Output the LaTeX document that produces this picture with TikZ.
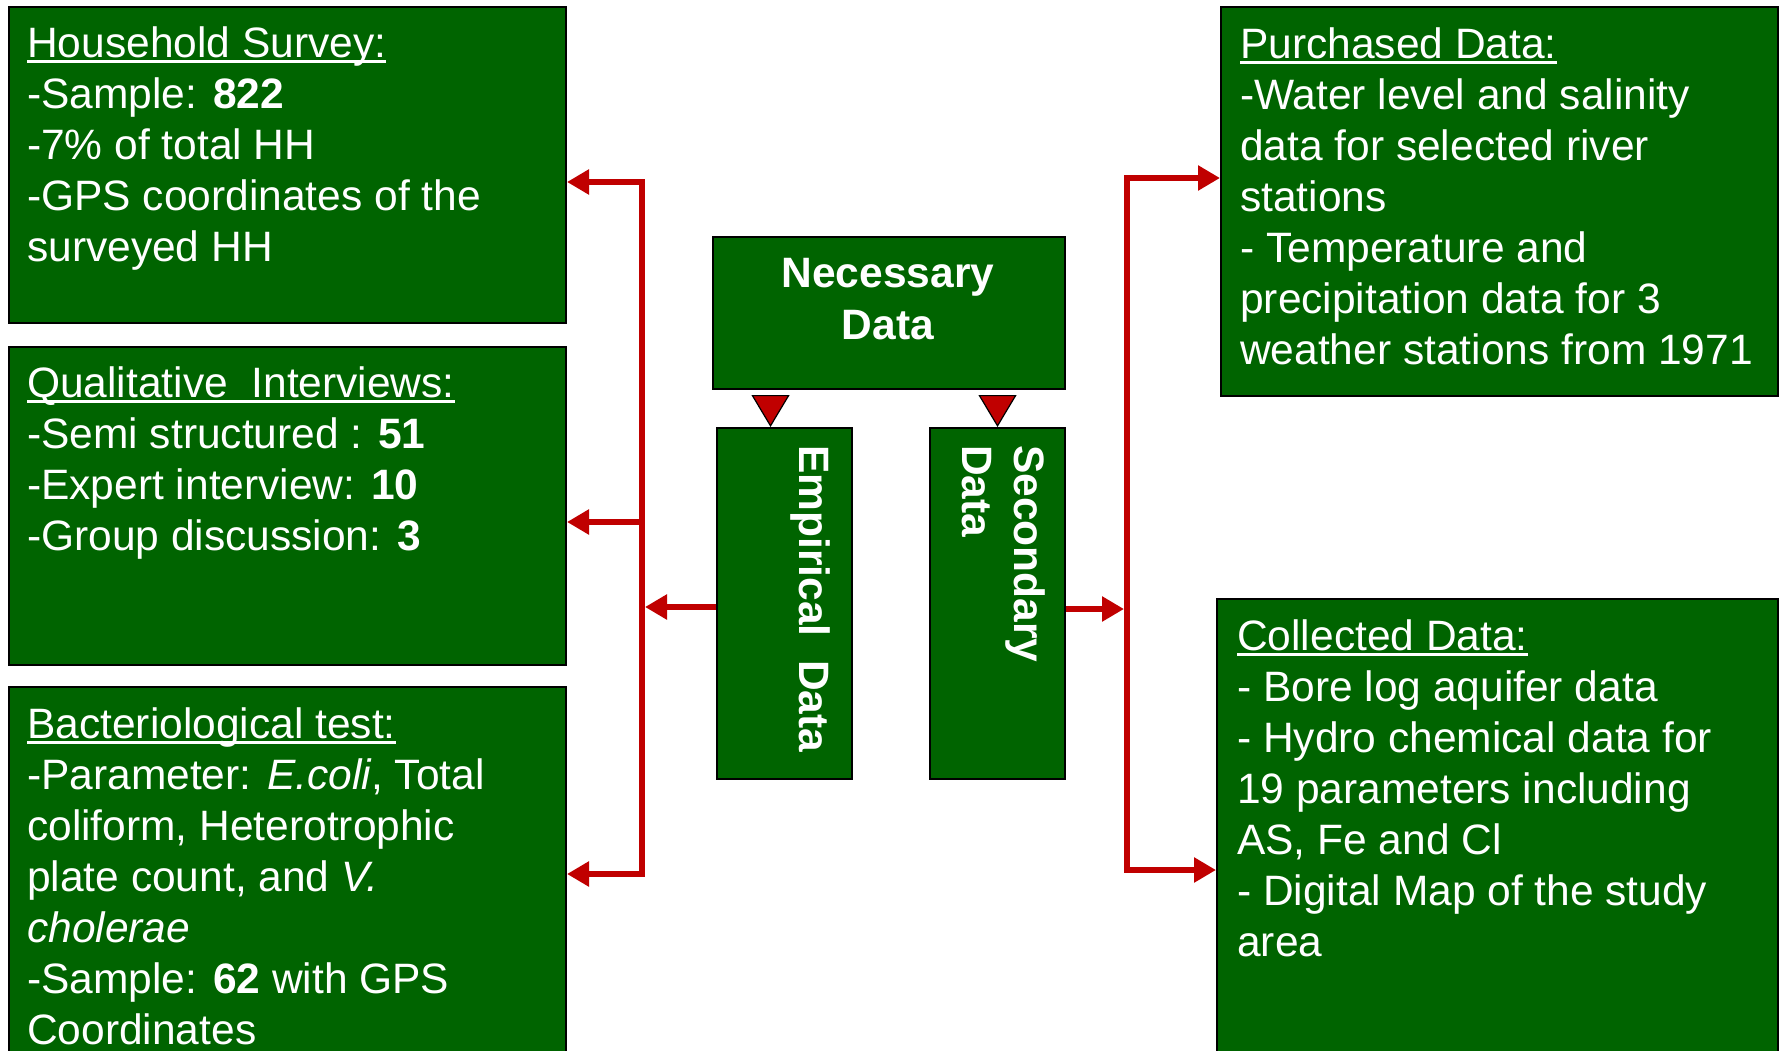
\documentclass[tikz,border=0pt]{standalone}
\usepackage{fontspec}
\setmainfont{Liberation Sans}
\usetikzlibrary{arrows.meta,calc}
\definecolor{boxgreen}{RGB}{0,100,0}
\definecolor{linered}{RGB}{192,0,0}
\newsavebox\myulbox
\newcommand\myul[1]{\sbox\myulbox{#1}\rlap{\rule[-6pt]{\wd\myulbox}{3pt}}\usebox\myulbox}
\begin{document}
\begin{tikzpicture}[x=1pt,y=-1pt,
  box/.style={draw=black, line width=2pt, fill=boxgreen, inner sep=0pt, anchor=north west},
  txt/.style={text=white, font=\fontsize{42.5}{51}\selectfont, align=left, inner sep=0pt, anchor=base west},
  btxt/.style={txt, font=\fontsize{42.5}{52}\selectfont\bfseries},
  bus/.style={draw=linered, line width=6pt},
  arr/.style={bus, -{Triangle[length=22pt,width=24pt]}},
  both/.style={bus, {Triangle[length=22pt,width=24pt]}-{Triangle[length=22pt,width=24pt]}},
  tri/.style={draw=black, line width=1.2pt, -{Triangle[length=32pt,width=38pt,fill=linered]}, shorten <=7pt}
]
\fill[white] (0,0) rectangle (1779,1051);
\useasboundingbox (0,0) rectangle (1779,1051);
\clip (0,0) rectangle (1779,1051);

% boxes
\node[box, minimum width=557pt, minimum height=316pt] (hh) at (8,6) {};
\node[box, minimum width=557pt, minimum height=318pt] (qu) at (8,346) {};
\node[box, minimum width=557pt, minimum height=380pt] (bt) at (8,686) {};
\node[box, minimum width=557pt, minimum height=389pt] (pd) at (1220,6) {};
\node[box, minimum width=561pt, minimum height=470pt] (cd) at (1216,598) {};
\node[box, minimum width=352pt, minimum height=152pt] (nec) at (712,236) {};
\node[box, minimum width=135pt, minimum height=351pt] (emp) at (716,427) {};
\node[box, minimum width=135pt, minimum height=351pt] (sec) at (929,427) {};

% texts (anchored at the baseline of the last line)
\node[txt] (hht) at (27,261) {\myul{Household Survey:}\\-Sample: \textbf{822}\\-7\% of total HH\\-GPS coordinates of the\\surveyed HH};
\node[txt] (qut) at (27,550) {\myul{Qualitative~~Interviews:}\\-Semi structured : \textbf{51}\\-Expert interview: \textbf{10}\\-Group discussion: \textbf{3}};
\node[txt] (btt) at (27,1044) {\myul{Bacteriological test:}\\-Parameter: \textit{E.coli}, Total\\coliform, Heterotrophic\\plate count, and \textit{V.}\\\textit{cholerae}\\-Sample: \textbf{62} with GPS\\Coordinates};
\node[txt] (pdt) at (1240,364) {\myul{Purchased Data:}\\-Water level and salinity\\data for selected river\\stations\\- Temperature and\\precipitation data for 3\\weather stations from 1971};
\node[txt] (cdt) at (1237,956) {\myul{Collected Data:}\\- Bore log aquifer data\\- Hydro chemical data for\\19 parameters including\\AS, Fe and Cl\\- Digital Map of the study\\area};
\node[btxt, anchor=base, align=center] (nect) at (888,339) {Necessary\\Data};
\node[btxt, rotate=-90] (empt) at (799,445) {Empirical~~Data};
\node[btxt, rotate=-90] (sect) at (962,445) {Secondary\\Data};

% triangles from Necessary Data
\coordinate (T1) at ([xshift=-14pt]emp.north);
\draw[tri] (T1 |- nec.south) -- (T1);
\draw[tri] (sec.north |- nec.south) -- (sec.north);

% red connectors
\coordinate (L1) at (642,182);
\coordinate (L2) at (642,522);
\coordinate (L3) at (642,874);
\coordinate (LM) at (645,607);
\coordinate (R1) at (1127,178);
\coordinate (R3) at (1127,870);
\coordinate (RM) at (1124,609);
\draw[both] (hh.east |- L1) -- (L1) -- (L3) -- (bt.east |- L3);
\draw[arr] (L2) -- (qu.east |- L2);
\draw[arr] (emp.west |- LM) -- (LM);
\draw[both] (pd.west |- R1) -- (R1) -- (R3) -- (cd.west |- R3);
\draw[arr] (sec.east |- RM) -- (RM);
\end{tikzpicture}
\end{document}
